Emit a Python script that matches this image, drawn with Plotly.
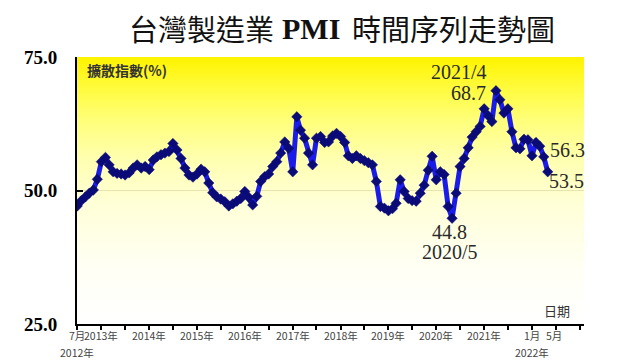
import numpy as np
import pandas as pd
import plotly.graph_objects as go

# ---------------- data ----------------
months = pd.date_range("2012-07-01", "2022-05-01", freq="MS")
pmi = [
    47.1, 48.1, 48.8, 49.5, 50.1, 52.1,                    # 2012/7-12
    55.4, 56.2, 54.8, 53.5, 53.2, 53.1, 52.9, 53.3, 54.2, 54.8, 54.2, 54.5,  # 2013
    53.9, 55.7, 56.3, 56.7, 57.0, 57.3, 58.8, 57.6, 56.0, 54.2, 52.9, 52.5,  # 2014
    53.1, 54.0, 53.5, 51.4, 49.6, 48.8, 48.4, 47.9, 47.1, 47.5, 48.0, 48.5,  # 2015
    49.8, 48.7, 47.3, 48.9, 51.7, 52.6, 53.1, 54.5, 55.4, 57.0, 59.1, 57.9,  # 2016
    53.5, 63.8, 61.3, 59.8, 57.0, 54.8, 59.8, 60.1, 59.0, 59.1, 60.2, 60.7,  # 2017
    60.1, 59.0, 56.5, 56.0, 56.5, 56.0, 55.6, 55.2, 54.8, 51.7, 47.0, 46.7,  # 2018
    46.2, 46.6, 47.6, 52.0, 49.8, 48.5, 48.1, 48.0, 49.5, 51.0, 53.8, 56.4,  # 2019
    52.0, 53.5, 53.0, 47.0, 44.8, 49.5, 54.5, 56.0, 58.0, 60.0, 61.0, 62.0,  # 2020
    65.3, 64.0, 62.9, 68.7, 67.0, 64.5, 65.3, 61.0, 58.0, 57.8, 59.6, 59.5,  # 2021
    56.5, 59.0, 58.3, 56.3, 53.5,                          # 2022/1-5
]
y_ticks = [25, 50, 75]
y_tick_text = ["25.0", "50.0", "75.0"]

row1_labels = ["7月", "2013年", "2014年", "2015年", "2016年", "2017年", "2018年",
               "2019年", "2020年", "2021年", "1月", "5月"]
row1_dates = ["2012-07-01", "2013-01-01", "2014-01-01", "2015-01-01", "2016-01-01",
              "2017-01-01", "2018-01-01", "2019-01-01", "2020-01-01", "2021-01-01",
              "2022-01-01", "2022-05-01"]
row2_labels = ["2012年", "2022年"]
row2_dates = ["2012-07-01", "2022-01-01"]

x_start, x_end = "2012-06-29", "2023-02-02"

fig = go.Figure()

# gradient background (yellow -> white)
grad_y = np.linspace(25, 75, 101)
fig.add_trace(go.Heatmap(
    x=[x_start, x_end], y=grad_y, z=[[v, v] for v in grad_y],
    colorscale=[[0.0, "#FFFFFF"], [0.22, "#FFFFF4"], [0.46, "#FFFFD6"],
                [0.62, "#FFFFB0"], [0.76, "#FFFF7C"], [0.88, "#FFFB40"], [1.0, "#FFF400"]],
    zmin=25, zmax=75, showscale=False, hoverinfo="skip", zsmooth="best"))

# faint reference line at 50
fig.add_trace(go.Scatter(x=[x_start, x_end], y=[50, 50], mode="lines",
                         line=dict(color="rgba(205,195,140,0.45)", width=1),
                         hoverinfo="skip", showlegend=False))

fig.add_trace(go.Scatter(
    x=months, y=pmi, mode="lines+markers",
    line=dict(color="#1C1CE8", width=5),
    marker=dict(symbol="diamond", size=8, color="#0B0B78",
                line=dict(color="#0B0B78", width=0.5)),
    showlegend=False))

serif = "Liberation Serif, Times New Roman, serif"
cjk = "Noto Sans CJK TC, Noto Sans CJK SC, sans-serif"
ann = []
def txt(x, y, s, size=20, font=serif, color="#2a2a2a", xref="x", yref="y", **kw):
    ann.append(dict(x=x, y=y, xref=xref, yref=yref, text=s, showarrow=False,
                    font=dict(family=font, size=size, color=color), **kw))

txt("2020-06-24", 72.1, "2021/4")
txt("2020-09-01", 68.2, "68.7")
txt("2022-09-28", 57.5, "56.3")
txt("2022-09-19", 51.7, "53.5")
txt("2020-04-13", 42.3, "44.8")
txt("2020-04-13", 38.4, "2020/5")
txt(0.016, 0.951, "<b>擴散指數(%)</b>", size=14, font=cjk, color="#333333",
    xref="paper", yref="paper", xanchor="left", yanchor="middle")
txt(0.946, 0.049, "日期", size=13, font=cjk, color="#333333",
    xref="paper", yref="paper", xanchor="center", yanchor="middle")

for d, s in zip(row1_dates, row1_labels):
    shift = 6 if s == "5月" else 0
    ann.append(dict(x=d, y=0, xref="x", yref="paper", text=s, showarrow=False,
                    yanchor="middle", yshift=-11, xshift=shift,
                    font=dict(family=cjk, size=10.5, color="#444444")))
for d, s in zip(row2_dates, row2_labels):
    ann.append(dict(x=d, y=0, xref="x", yref="paper", text=s, showarrow=False,
                    yanchor="middle", yshift=-28,
                    font=dict(family=cjk, size=10.5, color="#444444")))

# title in three pieces (CJK sans + bold serif "PMI")
title_y = 1.1086
txt(0.0986, title_y, "台灣製造業", size=29, font=cjk, color="#111111",
    xref="paper", yref="paper", xanchor="left", yanchor="middle")
txt(0.4004, title_y, "<b>PMI</b>", size=30, font=serif, color="#111111",
    xref="paper", yref="paper", xanchor="left", yanchor="middle")
txt(0.9467, title_y, "時間序列走勢圖", size=29, font=cjk, color="#111111",
    xref="paper", yref="paper", xanchor="right", yanchor="middle")

# plot area at x 77..584, y 57..324 of the 640x360 window
fig.update_layout(
    width=640, height=360,
    margin=dict(l=77, r=56, t=57, b=36),
    paper_bgcolor="white", plot_bgcolor="white",
    annotations=ann,
    showlegend=False,
)
fig.update_xaxes(
    range=[x_start, x_end], showgrid=False, zeroline=False,
    showline=True, linecolor="black", linewidth=2,
    ticks="outside", ticklen=4, tickwidth=2, tickcolor="black",
    tick0="2013-01-01", dtick="M6", showticklabels=False)
fig.update_yaxes(
    range=[25, 75], showgrid=False, zeroline=False,
    showline=True, linecolor="black", linewidth=2,
    ticks="inside", ticklen=6, tickwidth=1.5, tickcolor="black",
    tickvals=y_ticks, ticktext=["<b>%s</b>" % t for t in y_tick_text],
    ticklabelstandoff=14,
    tickfont=dict(family=serif, size=19, color="black"))

# remove the browser's default 8px body margin so the figure fills the window
fig.write_html("out.html", config={"displayModeBar": False},
               post_script="document.body.style.margin='0px';")
